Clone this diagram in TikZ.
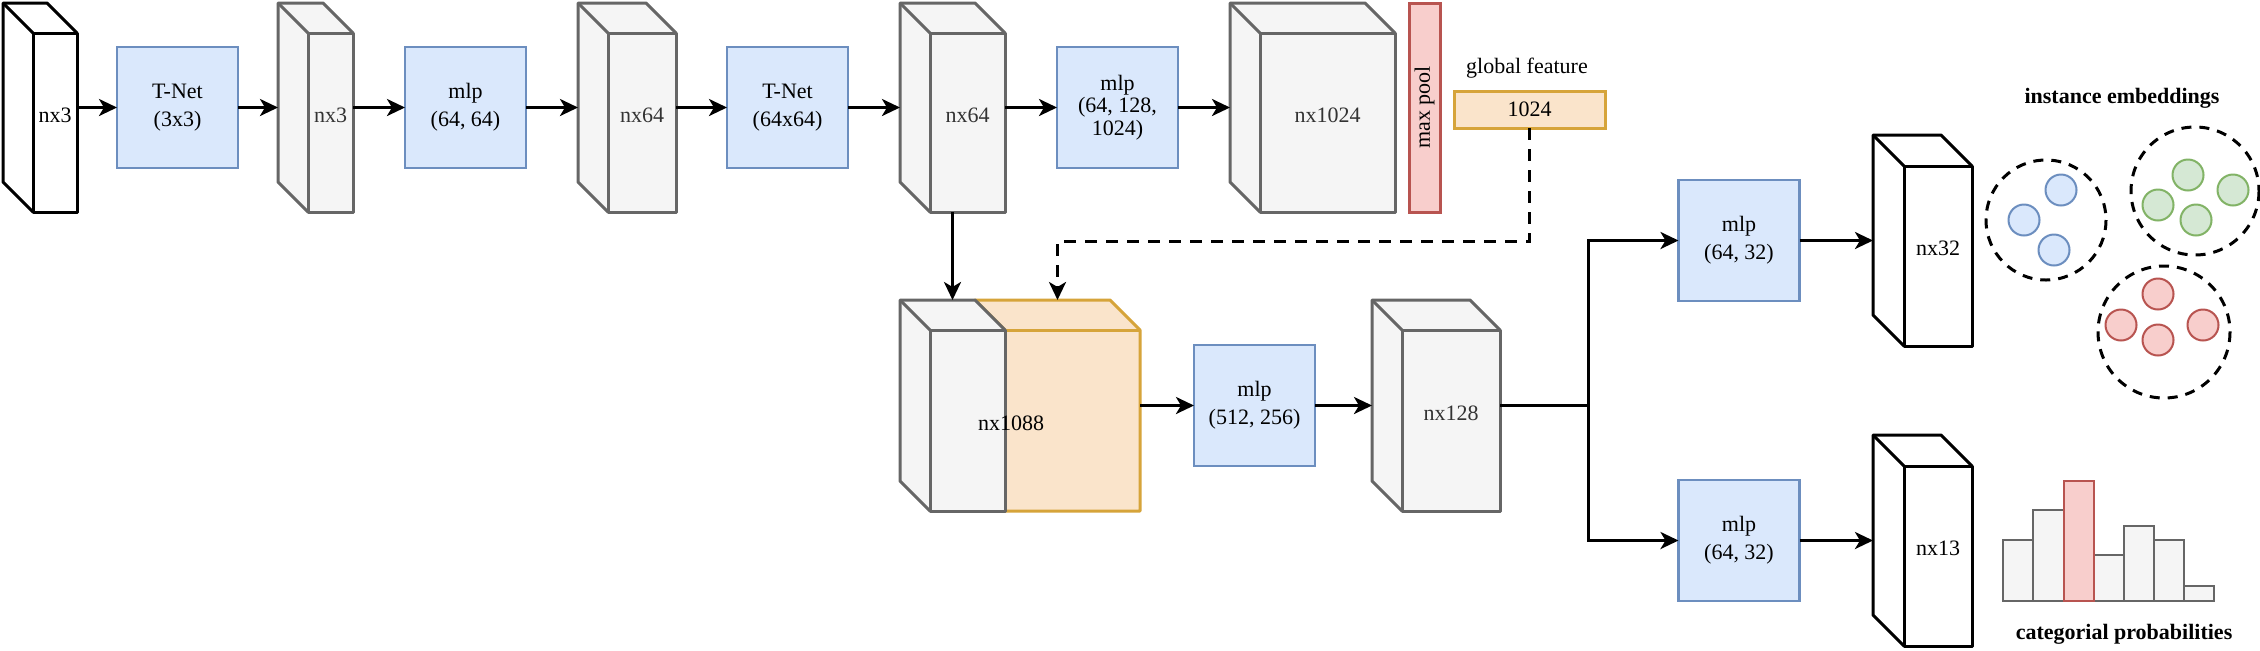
\documentclass[tikz,border=0pt]{standalone}
\usepackage{fontspec}
\setmainfont{Liberation Serif}
\usetikzlibrary{arrows.meta,fit}
\definecolor{bluef}{HTML}{DAE8FC}
\definecolor{bluel}{HTML}{6C8EBF}
\definecolor{grayf}{HTML}{F5F5F5}
\definecolor{grayl}{HTML}{666666}
\definecolor{grayt}{HTML}{333333}
\definecolor{redf}{HTML}{F8CECC}
\definecolor{redl}{HTML}{B85450}
\definecolor{orf}{HTML}{FAE4CB}
\definecolor{orl}{HTML}{D6A43A}
\definecolor{greenf}{HTML}{D5E8D4}
\definecolor{greenl}{HTML}{82B366}
\tikzset{
  conn/.style={line width=1.5pt, -{Stealth[length=9pt,width=8.5pt,inset=2.5pt]}},
  bluebox/.style={draw=bluel, fill=bluef, line width=1.1pt, minimum width=60.5pt, minimum height=60.5pt, inner sep=0pt, outer sep=0pt, align=center, font=\fontsize{11}{14}\selectfont},
  graycub/.style={draw=grayl, fill=grayf, line width=1.5pt, text=grayt, line join=round},
  blackcub/.style={draw=black, fill=white, line width=1.5pt, text=black, line join=round},
  orcub/.style={draw=orl, fill=orf, line width=1.5pt, line join=round},
  bb/.style={inner sep=0pt, outer sep=0pt},
  lbl/.style={font=\fontsize{11}{13}\selectfont},
  boldlbl/.style={font=\fontsize{11}{13}\selectfont\bfseries},
  maxp/.style={draw=redl, fill=redf, line width=1.5pt, rotate=90, minimum width=104.5pt, minimum height=15.5pt, inner sep=0pt, outer sep=0pt, font=\fontsize{11}{13}\selectfont},
  featbox/.style={draw=orl, fill=orf, line width=1.5pt, minimum width=75.5pt, minimum height=18.5pt, inner sep=0pt, outer sep=0pt, font=\fontsize{11}{13}\selectfont},
  cluster/.style={draw=black, line width=1.5pt, dash pattern=on 5pt off 4pt},
  bluedot/.style={draw=bluel, fill=bluef, line width=1pt},
  greendot/.style={draw=greenl, fill=greenf, line width=1pt},
  reddot/.style={draw=redl, fill=redf, line width=1pt},
  graybar/.style={draw=grayl, fill=grayf, line width=1.2pt},
  redbar/.style={draw=redl, fill=redf, line width=1.2pt},
}
% #1 name, #2 x1, #3 y1, #4 x2, #5 y2 (front face), #6 depth, #7 style, #8 label
\newcommand\mycub[8]{%
  \node[bb, fit={(#2-#6,#3-#6) (#4,#5)}] (#1) {};
  \filldraw[#7] (#2,#5) -- (#2-#6,#5-#6) -- (#2-#6,#3-#6) -- (#4-#6,#3-#6) -- (#4,#3) -- (#4,#5) -- cycle;
  \draw[#7] (#2-#6,#3-#6) -- (#2,#3);
  \node[#7, bb, lbl, fit={(#2,#3) (#4,#5)}] (#1f) {#8};
}
\begin{document}
\begin{tikzpicture}[x=0.5pt,y=-0.5pt]
\useasboundingbox (0,0) rectangle (2260,650);
\fill[white] (0,0) rectangle (2260,650);
% top row
\mycub{c1}{33}{33}{77}{212}{30}{blackcub}{nx3}
\node[bluebox] (t1) at (177.5,107.5) {T-Net\\(3x3)};
\mycub{c2}{308}{33}{353}{212}{30}{graycub}{nx3}
\node[bluebox] (m1) at (465.5,107.5) {mlp\\(64, 64)};
\mycub{c3}{608}{33}{676}{212}{30}{graycub}{nx64}
\node[bluebox] (t2) at (787.5,107.5) {T-Net\\(64x64)};
\mycub{c4}{930}{33}{1005}{212}{30}{graycub}{nx64}
\node[bluebox, font=\fontsize{11}{11.3}\selectfont] (m2) at (1117.5,107.5) {mlp\\(64, 128,\\1024)};
\mycub{c5}{1260}{33}{1395}{212}{30}{graycub}{nx1024}
\node[maxp] (mp) at (1424.5,107.5) {max pool};
\node[lbl] (gft) at (1527,68) {global feature};
\node[featbox] (gf) at (1529.5,109.5) {1024};
% concatenated features
\filldraw[orcub] (975,300) -- (1110,300) -- (1140,330) -- (1140,511) -- (1005,511) -- (1005,330) -- cycle;
\draw[orcub] (1005,330) -- (1140,330);
\mycub{c6g}{930}{330}{1005}{511}{30}{graycub}{}
\node[bb, fit={(975,300) (1140,511)}] (c6o) {};
\node[bb, fit={(900,300) (1140,511)}] (c6) {};
\node[lbl] (c6l) at (1011,423) {nx1088};
\node[bluebox] (m3) at (1254.5,405.5) {mlp\\(512, 256)};
\mycub{c7}{1402}{330}{1500}{511}{30}{graycub}{nx128}
\node[bluebox] (m4) at (1739,240.5) {mlp\\(64, 32)};
\node[bluebox] (m5) at (1739,540.5) {mlp\\(64, 32)};
\mycub{c8}{1904}{166}{1972}{346}{31}{blackcub}{nx32}
\mycub{c9}{1904}{466}{1972}{646}{31}{blackcub}{nx13}
% connectors
\draw[conn] (c1.east) -- (t1.west);
\draw[conn] (t1.east) -- (c2.west);
\draw[conn] (c2.east) -- (m1.west);
\draw[conn] (m1.east) -- (c3.west);
\draw[conn] (c3.east) -- (t2.west);
\draw[conn] (t2.east) -- (c4.west);
\draw[conn] (c4.east) -- (m2.west);
\draw[conn] (m2.east) -- (c5.west);
\draw[conn] (c4.south) -- (c6g.north);
\draw[conn, dash pattern=on 6pt off 4.5pt] (gf.south) -- ++(0,113) -| (c6o.north);
\draw[conn] (c6.east) -- (m3.west);
\draw[conn] (m3.east) -- (c7.west);
\draw[conn] (c7.east) -- ++(88,0) |- (m4.west);
\draw[conn] (c7.east) -- ++(88,0) |- (m5.west);
\draw[conn] (m4.east) -- (c8.west);
\draw[conn] (m5.east) -- (c9.west);
% instance embeddings
\node[boldlbl] (ie) at (2122,98) {instance embeddings};
\draw[cluster] (2046,220) circle [radius=60];
\draw[bluedot] (2061,190) circle [radius=15.5];
\draw[bluedot] (2024,220) circle [radius=15.5];
\draw[bluedot] (2054,250) circle [radius=15.5];
\draw[cluster] (2195,191) circle [radius=64];
\draw[greendot] (2188,175) circle [radius=15.5];
\draw[greendot] (2233,190) circle [radius=15.5];
\draw[greendot] (2158,205) circle [radius=15.5];
\draw[greendot] (2196,220) circle [radius=15.5];
\draw[cluster] (2164,332) circle [radius=66];
\draw[reddot] (2158,294) circle [radius=15.5];
\draw[reddot] (2121,325) circle [radius=15.5];
\draw[reddot] (2158,340) circle [radius=15.5];
\draw[reddot] (2203,325) circle [radius=15.5];
% categorial probabilities
\filldraw[graybar] (2003,601) rectangle (2033,540);
\filldraw[graybar] (2033,601) rectangle (2064,510);
\filldraw[graybar] (2094,601) rectangle (2124,555);
\filldraw[graybar] (2124,601) rectangle (2154,526);
\filldraw[graybar] (2154,601) rectangle (2184,540);
\filldraw[graybar] (2184,601) rectangle (2214,586);
\filldraw[redbar] (2064,601) rectangle (2094,481);
\node[boldlbl] (cp) at (2124,634) {categorial probabilities};
\end{tikzpicture}
\end{document}
